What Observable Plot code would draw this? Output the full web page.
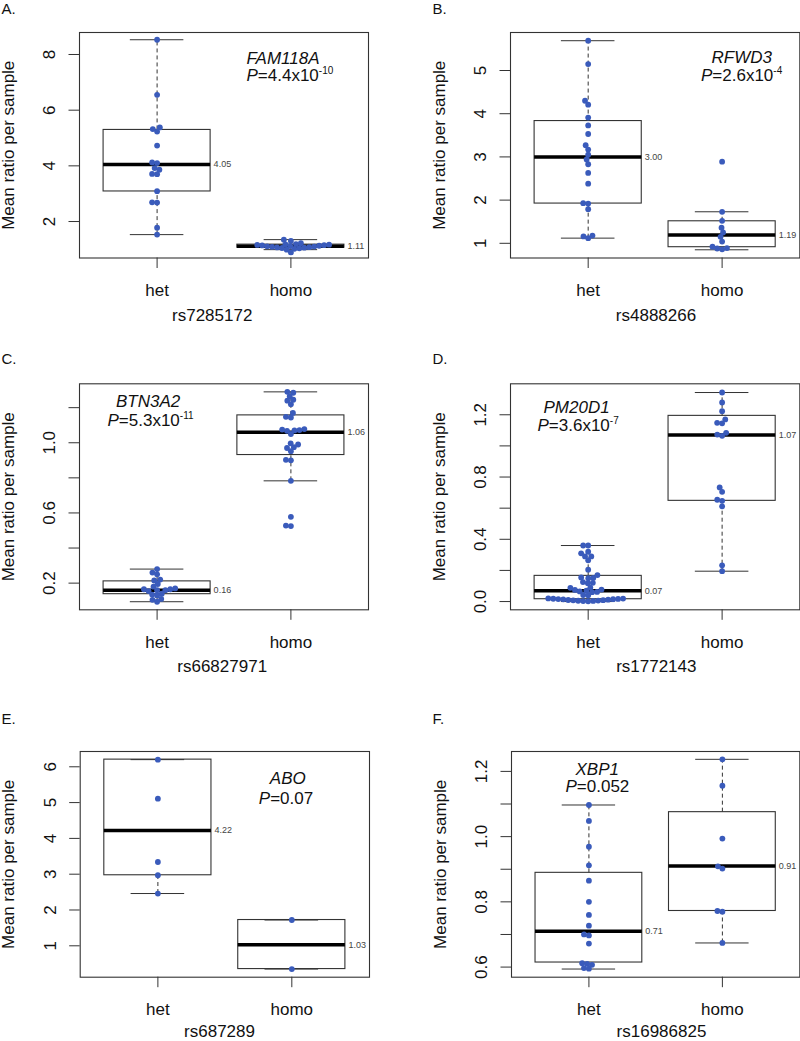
<!DOCTYPE html>
<html>
<head>
<meta charset="utf-8">
<script src="https://cdn.jsdelivr.net/npm/d3@7"></script>
<script src="https://cdn.jsdelivr.net/npm/@observablehq/plot@0.6"></script>
<style>
html, body { margin: 0; padding: 0; background: #fff; }
#fig { position: relative; width: 800px; height: 1041px; overflow: hidden; background: #fff; }
.cell { position: absolute; }
</style>
</head>
<body>
<div id="fig"></div>
<script>
// ---------------- data ----------------
const groups = ["het", "homo"];
const panelLetters = ["A.", "B.", "C.", "D.", "E.", "F."];
const genes = ["FAM118A", "RFWD3", "BTN3A2", "PM20D1", "ABO", "XBP1"];
const pValues = ["4.4x10^-10", "2.6x10^-4", "5.3x10^-11", "3.6x10^-7", "0.07", "0.052"];
const snps = ["rs7285172", "rs4888266", "rs66827971", "rs1772143", "rs687289", "rs16986825"];
const yTitle = "Mean ratio per sample";

// points per group
const hetA = [8.53, 6.55, 5.38, 5.32, 5.23, 4.73, 4.12, 4.1, 3.92, 3.86, 3.71, 3.7, 3.09, 2.69, 2.68, 1.78, 1.53];
const homoA = [1.35, 1.3, 1.22, 1.19, 1.18, 1.17, 1.16, 1.15, 1.14, 1.13, 1.12, 1.11, 1.1, 1.09, 1.08, 1.07, 1.06, 1.05, 1.04, 1.02, 0.99, 0.89];
const hetB = [5.69, 5.15, 4.3, 4.21, 3.91, 3.73, 3.53, 3.27, 3.17, 3.05, 2.94, 2.83, 2.63, 2.38, 1.93, 1.92, 1.79, 1.18, 1.16, 1.12];
const homoB = [2.89, 1.73, 1.52, 1.36, 1.25, 1.15, 1.04, 0.92, 0.89, 0.88, 0.86];
const hetC = [0.28, 0.26, 0.25, 0.22, 0.215, 0.195, 0.18, 0.17, 0.165, 0.165, 0.16, 0.16, 0.155, 0.14, 0.135, 0.13, 0.11, 0.105, 0.094];
const homoC = [1.29, 1.285, 1.265, 1.245, 1.24, 1.22, 1.17, 1.148, 1.144, 1.078, 1.075, 1.072, 1.07, 1.068, 1.05, 0.997, 0.99, 0.975, 0.97, 0.952, 0.903, 0.9, 0.783, 0.578, 0.528, 0.525];
const hetD = [0.36, 0.36, 0.32, 0.31, 0.29, 0.29, 0.265, 0.205, 0.17, 0.155, 0.152, 0.15, 0.125, 0.12, 0.118, 0.09, 0.088, 0.077, 0.075, 0.07, 0.065, 0.062, 0.06, 0.042, 0.04,
              0.02, 0.019, 0.018, 0.017, 0.016, 0.015, 0.014, 0.012, 0.01, 0.009, 0.008, 0.006, 0.005, 0.004, 0.003, 0.002];
const homoD = [1.343, 1.279, 1.223, 1.17, 1.148, 1.145, 1.084, 1.073, 1.065, 0.733, 0.705, 0.654, 0.647, 0.612, 0.233, 0.195];
const hetE = [6.2, 5.11, 3.34, 2.97, 2.46];
const homoE = [1.72, 0.35];
const hetF = [1.097, 1.048, 0.969, 0.912, 0.865, 0.8, 0.76, 0.727, 0.7, 0.697, 0.672, 0.612, 0.61, 0.607, 0.597, 0.595];
const homoF = [1.237, 1.156, 0.994, 0.909, 0.902, 0.772, 0.77, 0.674];

// box statistics per group: [lower whisker, Q1, median, Q3, upper whisker]
const boxA = [[1.53, 3.08, 4.05, 5.29, 8.53], [0.99, 1.06, 1.11, 1.17, 1.35]];
const boxB = [[1.12, 1.92, 3.00, 3.83, 5.69], [0.85, 0.91, 1.19, 1.51, 1.73]];
const boxC = [[0.094, 0.137, 0.16, 0.21, 0.28], [0.783, 0.93, 1.06, 1.156, 1.29]];
const boxD = [[0.0, 0.015, 0.07, 0.165, 0.36], [0.195, 0.647, 1.07, 1.193, 1.343]];
const boxE = [[2.46, 2.97, 4.22, 6.2, 6.2], [0.35, 0.35, 1.03, 1.72, 1.72]];
const boxF = [[0.594, 0.614, 0.71, 0.889, 1.097], [0.674, 0.772, 0.91, 1.075, 1.237]];

const medianLabelsA = ["4.05", "1.11"];
const medianLabelsB = ["3.00", "1.19"];
const medianLabelsC = ["0.16", "1.06"];
const medianLabelsD = ["0.07", "1.07"];
const medianLabelsE = ["4.22", "1.03"];
const medianLabelsF = ["0.71", "0.91"];

// y axes
const yTicksA = [2, 4, 6, 8], yTickLabelsA = ["2", "4", "6", "8"];
const yTicksB = [1, 2, 3, 4, 5], yTickLabelsB = ["1", "2", "3", "4", "5"];
const yTicksC = [0.2, 0.4, 0.6, 0.8, 1.0, 1.2], yTickLabelsC = ["0.2", "", "0.6", "", "1.0", ""];
const yTicksD = [0, 0.2, 0.4, 0.6, 0.8, 1.0, 1.2], yTickLabelsD = ["0.0", "", "0.4", "", "0.8", "", "1.2"];
const yTicksE = [1, 2, 3, 4, 5, 6], yTickLabelsE = ["1", "2", "3", "4", "5", "6"];
const yTicksF = [0.6, 0.7, 0.8, 0.9, 1.0, 1.1, 1.2], yTickLabelsF = ["0.6", "", "0.8", "", "1.0", "", "1.2"];
const yDomainA = [0.69, 8.79];
const yDomainB = [0.66, 5.88];
const yDomainC = [0.048, 1.336];
const yDomainD = [-0.053, 1.399];
const yDomainE = [0.123, 6.427];
const yDomainF = [0.569, 1.261];
const xDomain = [0.42, 2.58];

// ---------------- layout (page pixels) ----------------
const layout = [
  {cell: [0, 0, 400, 335],     frame: [79, 32, 368, 257.5],     letter: [1, 13.5],     gene: [246, 63],  p: [246, 80.5],  xt: [211.7, 320]},
  {cell: [400, 0, 400, 335],   frame: [510, 32, 799.3, 257.5],  letter: [432, 13.5],   gene: [711, 62.3],  p: [700.5, 80.2],  xt: [655.5, 320]},
  {cell: [0, 335, 400, 345],   frame: [79, 383.3, 368, 609.3],  letter: [1, 363.5],    gene: [115.5, 406.8], p: [107, 425], xt: [221.7, 671]},
  {cell: [400, 335, 400, 345], frame: [510, 383.3, 799.3, 609.3], letter: [432, 363.5], gene: [543, 412.2], p: [537, 430], xt: [655.8, 671]},
  {cell: [0, 680, 400, 361],   frame: [79.7, 751, 369, 976.7],  letter: [1, 723.5],    gene: [269.3, 783.3], p: [258.3, 803.3], xt: [219, 1036.5]},
  {cell: [400, 680, 400, 361], frame: [511, 751, 799.3, 976.7], letter: [432, 723.5],  gene: [575, 774.3], p: [565, 791.7], xt: [661, 1036.5]}
];

const panels = [
  {het: hetA, homo: homoA, box: boxA, med: medianLabelsA, ticks: yTicksA, tickLabels: yTickLabelsA, domain: yDomainA},
  {het: hetB, homo: homoB, box: boxB, med: medianLabelsB, ticks: yTicksB, tickLabels: yTickLabelsB, domain: yDomainB},
  {het: hetC, homo: homoC, box: boxC, med: medianLabelsC, ticks: yTicksC, tickLabels: yTickLabelsC, domain: yDomainC},
  {het: hetD, homo: homoD, box: boxD, med: medianLabelsD, ticks: yTicksD, tickLabels: yTickLabelsD, domain: yDomainD},
  {het: hetE, homo: homoE, box: boxE, med: medianLabelsE, ticks: yTicksE, tickLabels: yTickLabelsE, domain: yDomainE},
  {het: hetF, homo: homoF, box: boxF, med: medianLabelsF, ticks: yTicksF, tickLabels: yTickLabelsF, domain: yDomainF}
];

const BLUE = "#3a5bbb";
const INK = "#333";
const FONT = "'Liberation Sans', Arial, Helvetica, sans-serif";

// beeswarm (swarm) offsets in pixels, placed in order of value
function swarm(ys, d) {
  const order = ys.map((_, i) => i).sort((a, b) => ys[b] - ys[a]);
  const placed = [];
  const off = new Array(ys.length).fill(0);
  for (const i of order) {
    const y = ys[i];
    const cands = [0];
    for (const p of placed) {
      const dy = Math.abs(p.y - y);
      if (dy < d) {
        const dx = Math.sqrt(d * d - dy * dy);
        cands.push(p.x + dx, p.x - dx);
      }
    }
    cands.sort((a, b) => Math.abs(a) - Math.abs(b) || a - b);
    let best = 0;
    for (const c of cands) {
      if (placed.every(p => (p.x - c) ** 2 + (p.y - y) ** 2 >= d * d - 1e-6)) { best = c; break; }
    }
    placed.push({x: best, y});
    off[i] = best;
  }
  return off;
}

function richText(svg) {
  svg.querySelectorAll("text").forEach(t => {
    const s = t.textContent;
    if (!s.startsWith("P=")) return;
    const [main, sup] = s.slice(1).split("^");
    t.textContent = "";
    const ns = "http://www.w3.org/2000/svg";
    const a = document.createElementNS(ns, "tspan");
    a.setAttribute("font-style", "italic"); a.textContent = "P"; t.appendChild(a);
    const b = document.createElementNS(ns, "tspan");
    b.textContent = main; t.appendChild(b);
    if (sup) {
      const c = document.createElementNS(ns, "tspan");
      c.setAttribute("dy", "-7"); c.setAttribute("font-size", "10px");
      c.textContent = sup; t.appendChild(c);
    }
  });
}

const fig = document.getElementById("fig");

panels.forEach((P, i) => {
  const L = layout[i];
  const [cx, cy, cw, ch] = L.cell;
  const [fl, ft, fr, fb] = L.frame;
  const ml = fl - cx, mt = ft - cy, mr = cx + cw - fr, mb = cy + ch - fb;
  const yPx = d3.scaleLinear(P.domain, [ch - mb, mt]);
  const pxPerX = (cw - ml - mr) / (xDomain[1] - xDomain[0]);

  const pts = [];
  [P.het, P.homo].forEach((vals, g) => {
    const off = swarm(vals.map(yPx), 5);
    vals.forEach((v, k) => pts.push({x: g + 1 + off[k] / pxPerX, y: v}));
  });
  const stats = P.box.map((b, g) => ({c: g + 1, lo: b[0], q1: b[1], med: b[2], q3: b[3], hi: b[4], label: P.med[g]}));
  const at = (ax, ay) => ({frameAnchor: "top-left", dx: ax - fl, dy: ay - ft});

  const plot = Plot.plot({
    width: cw, height: ch,
    marginLeft: ml, marginTop: mt, marginRight: mr, marginBottom: mb,
    x: {domain: xDomain, label: null},
    y: {domain: P.domain, label: null},
    style: {background: "transparent", overflow: "visible", fontFamily: FONT, fontSize: "17px", color: "#111"},
    marks: [
      Plot.rect(stats, {x1: d => d.c - 0.4, x2: d => d.c + 0.4, y1: "q1", y2: "q3", fill: "none", stroke: INK, strokeWidth: 1.1}),
      Plot.ruleX(stats, {x: "c", y1: "q3", y2: "hi", stroke: INK, strokeDasharray: "4,3"}),
      Plot.ruleX(stats, {x: "c", y1: "lo", y2: "q1", stroke: INK, strokeDasharray: "4,3"}),
      Plot.ruleY(stats, {y: "hi", x1: d => d.c - 0.2, x2: d => d.c + 0.2, stroke: INK}),
      Plot.ruleY(stats, {y: "lo", x1: d => d.c - 0.2, x2: d => d.c + 0.2, stroke: INK}),
      Plot.ruleY(stats, {y: "med", x1: d => d.c - 0.4, x2: d => d.c + 0.4, stroke: "#000", strokeWidth: 3.5}),
      Plot.dot(pts, {x: "x", y: "y", r: 2.9, fill: BLUE}),
      Plot.text(stats, {x: d => d.c + 0.4, y: "med", text: "label", dx: 3, textAnchor: "start", fontSize: 9, fill: "#444"}),
      Plot.frame({stroke: INK, strokeWidth: 1.1}),
      Plot.axisX({ticks: [1, 2], tickFormat: d => groups[d - 1], tickSize: 10.5, tickPadding: 15.5, label: null, stroke: INK}),
      Plot.axisY({ticks: P.ticks, tickFormat: d => P.tickLabels[P.ticks.indexOf(d)], tickSize: 10.5, tickPadding: 14, tickRotate: -90, label: null, stroke: INK}),
      Plot.text([yTitle], {text: d => d, frameAnchor: "left", dx: -66, rotate: -90, textAnchor: "middle", lineAnchor: "bottom"}),
      Plot.text([snps[i]], {text: d => d, ...at(L.xt[0], L.xt[1]), textAnchor: "middle", lineAnchor: "bottom"}),
      Plot.text([panelLetters[i]], {text: d => d, ...at(L.letter[0], L.letter[1]), textAnchor: "start", lineAnchor: "bottom", fontSize: 15}),
      Plot.text([genes[i]], {text: d => d, ...at(L.gene[0], L.gene[1]), textAnchor: "start", lineAnchor: "bottom", fontStyle: "italic"}),
      Plot.text(["P=" + pValues[i]], {text: d => d, ...at(L.p[0], L.p[1]), textAnchor: "start", lineAnchor: "bottom"})
    ]
  });
  richText(plot);
  const div = document.createElement("div");
  div.className = "cell";
  div.style.left = cx + "px";
  div.style.top = cy + "px";
  div.appendChild(plot);
  fig.appendChild(div);
});
</script>
</body>
</html>
